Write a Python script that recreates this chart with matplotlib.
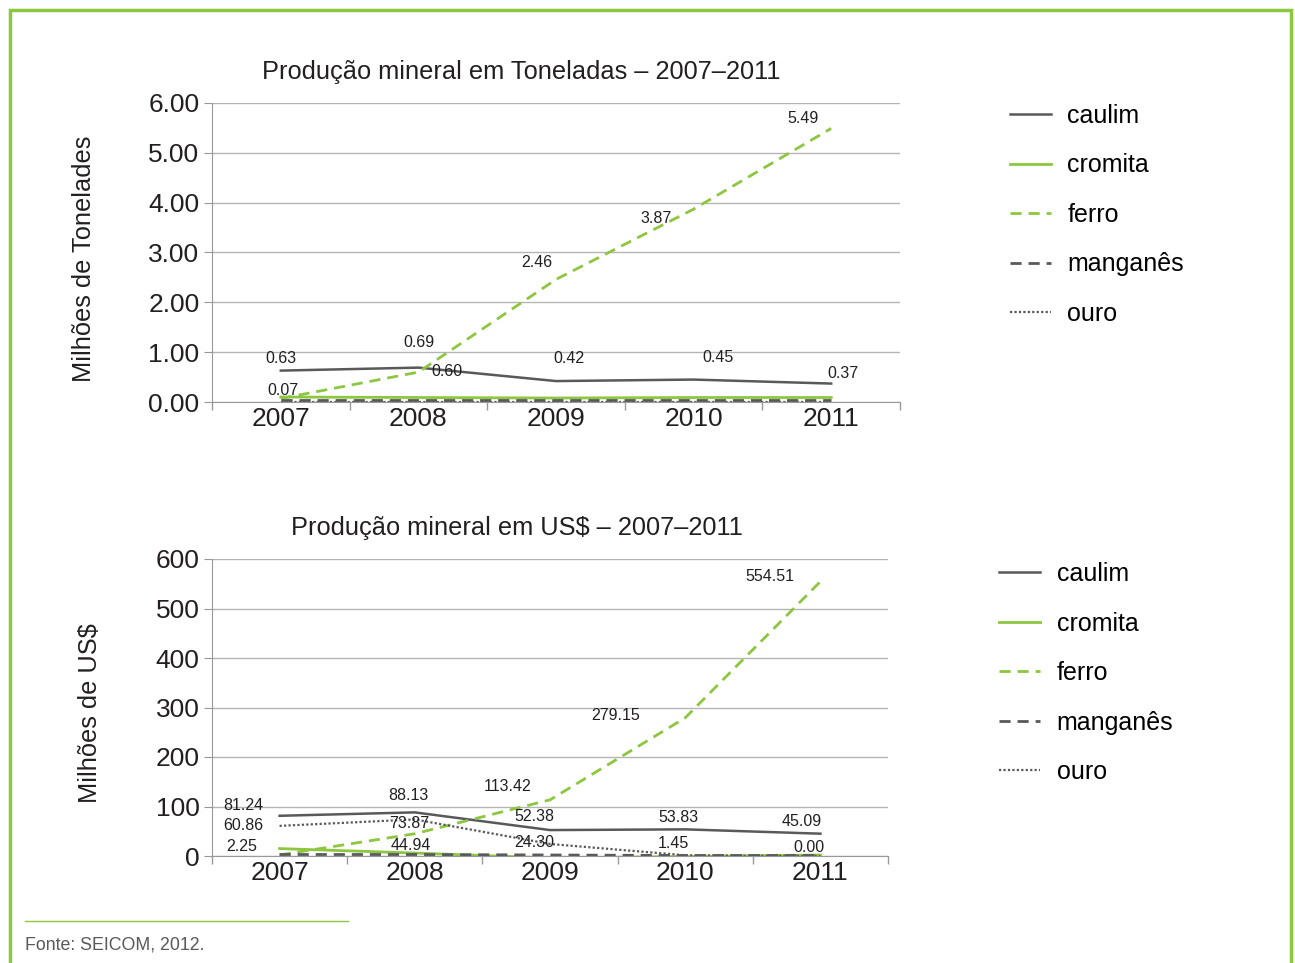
import matplotlib
matplotlib.use("Agg")
import matplotlib.pyplot as plt
from matplotlib.patches import Rectangle
from matplotlib.lines import Line2D

plt.rcParams['font.family'] = ['Liberation Sans', 'DejaVu Sans']

# data
years = ['2007', '2008', '2009', '2010', '2011']
series = ['caulim', 'cromita', 'ferro', 'manganês', 'ouro']

# production in millions of tonnes
ton_caulim = [0.63, 0.69, 0.42, 0.45, 0.37]
ton_cromita = [0.10, 0.09, 0.08, 0.09, 0.09]
ton_ferro = [0.07, 0.60, 2.46, 3.87, 5.49]
ton_manganes = [0.05, 0.05, 0.05, 0.05, 0.05]
ton_ouro = [0.0, 0.0, 0.0, 0.0, 0.0]

# production in millions of US$
usd_caulim = [81.24, 88.13, 52.38, 53.83, 45.09]
usd_cromita = [15, 6, -4, -1, 2]
usd_ferro = [2.25, 44.94, 113.42, 279.15, 554.51]
usd_manganes = [3, 3, 2, 1, 1]
usd_ouro = [60.86, 73.87, 24.30, 1.45, 0.00]

# label offsets in pixels (dx, dy) for each labelled point
ton_caulim_off = [(0, 12), (1, 25), (13, 23), (24, 22), (12, 10)]
ton_ferro_off = [(2, 8), (29, 1), (-19, 17), (-38, -9), (-28, 10)]
usd_caulim_off = [(-36, 10), (-6, 17), (-16, 14), (-7, 12), (-19, 12)]
usd_ouro_off = [(-36, 0), (-6, -4), (-16, 1), (-12, 12), (-11, 9)]
usd_ferro_off = [(-38, 8), (-4, -12), (-42, 13), (-70, 2), (-51, 5)]

dark = '#58595b'
green = '#8dc63f'
txt = '#231f20'
styles = [
    dict(color=dark, linestyle='-', linewidth=1.8),
    dict(color=green, linestyle='-', linewidth=2),
    dict(color=green, linestyle=(0, (4, 2.5)), linewidth=2),
    dict(color=dark, linestyle=(0, (4, 2.5)), linewidth=2),
    dict(color=dark, linestyle=(0, (1, 1)), linewidth=1.6),
]

fig = plt.figure(figsize=(12.95, 9.63), dpi=100)
fig.patch.set_facecolor('white')

W, H = 1295, 963


def setup(ax, ylim, yticks, fmt, ylabel, title, title_x):
    ax.set_xlim(-0.5, 4.5)
    ax.set_ylim(*ylim)
    ax.set_yticks(yticks)
    ax.set_yticklabels([fmt.format(v) for v in yticks])
    ax.set_xticks(range(5))
    ax.set_xticklabels(years)
    ax.set_xticks([i - 0.5 for i in range(6)], minor=True)
    ax.tick_params(axis='x', which='major', length=0, labelsize=19, colors=txt, pad=3.5)
    ax.tick_params(axis='x', which='minor', length=6, color='#999999', width=1)
    ax.tick_params(axis='y', length=6, color='#999999', labelsize=19, labelcolor=txt, pad=3)
    ax.grid(axis='y', color='#b5b5b5', linewidth=1)
    ax.set_axisbelow(True)
    for s in ['top', 'right']:
        ax.spines[s].set_visible(False)
    for s in ['left', 'bottom']:
        ax.spines[s].set_color('#999999')
    ax.set_ylabel(ylabel, fontsize=18.3, color=txt)
    ax.text(title_x, 1.105, title, transform=ax.transAxes, ha='center', va='center',
            fontsize=18.3, color=txt)


def labels(ax, vals, offs):
    for i, (v, o) in enumerate(zip(vals, offs)):
        ax.annotate('{:.2f}'.format(v), (i, v), xytext=o, textcoords='offset pixels',
                    ha='center', va='center', fontsize=11.5, color=txt)


# top chart
ax1 = fig.add_axes([212 / W, 1 - 402 / H, 688 / W, 299 / H])
x = range(5)
for vals, st in zip([ton_caulim, ton_cromita, ton_ferro, ton_manganes, ton_ouro], styles):
    ax1.plot(x, vals, **st)
setup(ax1, (0, 6), [0, 1, 2, 3, 4, 5, 6], '{:.2f}', 'Milhões de Tonelades',
      'Produção mineral em Toneladas – 2007–2011', 0.45)
ax1.yaxis.set_label_coords(-0.168, 0.48)
labels(ax1, ton_caulim, ton_caulim_off)
labels(ax1, ton_ferro, ton_ferro_off)

# bottom chart
ax2 = fig.add_axes([212 / W, 1 - 856 / H, 676 / W, 297 / H])
for vals, st in zip([usd_caulim, usd_cromita, usd_ferro, usd_manganes, usd_ouro], styles):
    ax2.plot(x, vals, **st)
setup(ax2, (0, 600), [0, 100, 200, 300, 400, 500, 600], '{:d}', 'Milhões de US$',
      'Produção mineral em US$ – 2007–2011', 0.451)
ax2.yaxis.set_label_coords(-0.162, 0.48)
labels(ax2, usd_caulim, usd_caulim_off)
labels(ax2, usd_ouro, usd_ouro_off)
labels(ax2, usd_ferro, usd_ferro_off)

# legends
handles = [Line2D([], [], **st) for st in styles]
leg_kw = dict(frameon=False, fontsize=18, handlelength=1.65, handletextpad=0.65,
              labelspacing=1.02, loc='upper left', borderaxespad=0, borderpad=0)
fig.legend(handles, series, bbox_to_anchor=(1010 / W, 1 - 104 / H), **leg_kw)
fig.legend(handles, series, bbox_to_anchor=(999 / W, 1 - 562 / H), **leg_kw)

# frame and footnote
fig.add_artist(Rectangle((10 / W, -0.05), 1281 / W, 1 - 10 / H + 0.05,
                         transform=fig.transFigure, fill=False, edgecolor=green,
                         linewidth=2.5))
fig.add_artist(Line2D([25 / W, 348 / W], [1 - 921 / H, 1 - 921 / H],
                      transform=fig.transFigure, color=green, linewidth=1))
fig.text(25 / W, 1 - 945 / H, 'Fonte: SEICOM, 2012.', fontsize=12.8, color='#58595b',
         ha='left', va='center')

fig.savefig('out.png', dpi=100)
